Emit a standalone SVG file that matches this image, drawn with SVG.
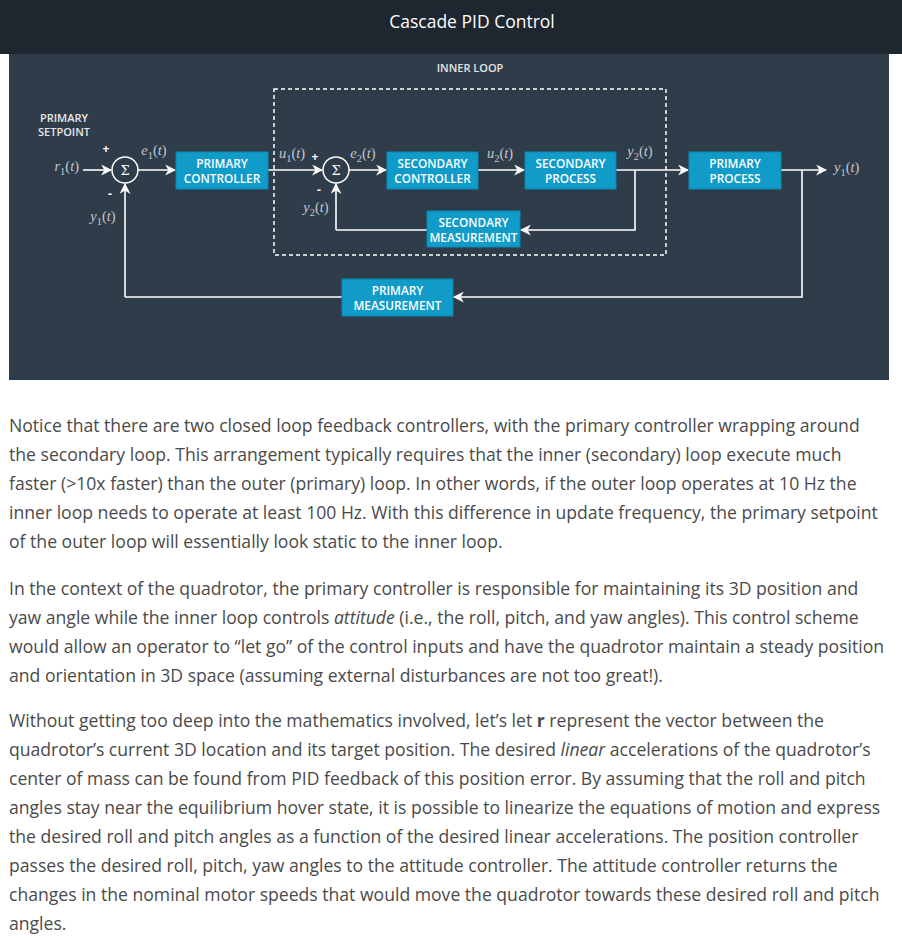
<svg xmlns="http://www.w3.org/2000/svg" width="902" height="938" viewBox="0 0 902 938">
<defs>
<marker id="ah" viewBox="0 0 10 10" refX="9" refY="5" markerWidth="11" markerHeight="11" markerUnits="userSpaceOnUse" orient="auto">
<path d="M0,0 L10,5 L0,10 L3,5 z" fill="#ffffff"/>
</marker>
<style>
.box{fill:#109bc9;stroke:#0b86b0;stroke-width:1}
.bt{font-family:"Open Sans","Noto Sans",sans-serif;font-size:11.8px;font-weight:600;fill:#ffffff;text-anchor:middle}
.lbl{font-family:"Open Sans","Noto Sans",sans-serif;font-size:11px;font-weight:600;fill:#e6e6e6;text-anchor:middle}
.m{font-family:"Liberation Serif","DejaVu Serif",serif;font-size:14.5px;fill:#c3c8ce}
.mi{font-style:italic}
.ln{fill:none;stroke:#ffffff;stroke-width:1.6}
.ar{fill:none;stroke:#ffffff;stroke-width:1.6;marker-end:url(#ah)}
.sg{font-family:"Open Sans","Noto Sans",sans-serif;font-size:12px;font-weight:700;fill:#ffffff;text-anchor:middle}
.p{font-family:"Open Sans","Noto Sans",sans-serif;font-size:17.6px;fill:#4a4a4a}
</style>
</defs>
<rect x="0" y="0" width="902" height="938" fill="#ffffff"/>
<rect x="0" y="0" width="902" height="54" fill="#1e262f"/>
<rect x="9" y="54" width="880" height="326" fill="#2f3c4a"/>
<text x="472" y="28" font-family="'Open Sans','Noto Sans',sans-serif" font-size="17.5" fill="#ffffff" text-anchor="middle">Cascade PID Control</text>

<g id="inner-loop">
<rect x="274" y="89" width="392" height="166" fill="none" stroke="#ffffff" stroke-width="1.5" stroke-dasharray="4,3"/>
<text class="lbl" x="470" y="72">INNER LOOP</text>
</g>
<g id="setpoint-label">
<text class="lbl" x="64" y="122">PRIMARY</text>
<text class="lbl" x="64" y="136">SETPOINT</text>
</g>

<g id="connectors">
<path class="ar" d="M83,170 H111"/>
<path class="ar" d="M138,170 H175"/>
<path class="ar" d="M268,170 H322"/>
<path class="ar" d="M349,170 H386"/>
<path class="ar" d="M478,170 H524"/>
<path class="ar" d="M616,170 H688"/>
<path class="ar" d="M781,170 H826"/>
<path class="ar" d="M635,170 V230 H521"/>
<path class="ln" d="M427,230 H336"/>
<path class="ar" d="M336,230 V184"/>
<path class="ar" d="M802,170 V297 H454"/>
<path class="ln" d="M342,297 H125"/>
<path class="ar" d="M125,297 V184"/>
</g>

<g id="sum1">
<circle cx="125" cy="170" r="13" fill="none" stroke="#ffffff" stroke-width="1.5"/>
<text x="125" y="175" font-family="'DejaVu Serif',serif" font-size="13" fill="#ffffff" text-anchor="middle">Σ</text>
<text class="sg" x="106" y="153">+</text>
<text class="sg" x="110" y="198">-</text>
</g>
<g id="sum2">
<circle cx="336" cy="170" r="13" fill="none" stroke="#ffffff" stroke-width="1.5"/>
<text x="336" y="175" font-family="'DejaVu Serif',serif" font-size="13" fill="#ffffff" text-anchor="middle">Σ</text>
<text class="sg" x="315" y="161">+</text>
<text class="sg" x="319" y="194">-</text>
</g>

<g id="primary-controller">
<rect class="box" x="176" y="152" width="92" height="37"/>
<text class="bt" x="222" y="168">PRIMARY</text>
<text class="bt" x="222" y="182.5">CONTROLLER</text>
</g>
<g id="secondary-controller">
<rect class="box" x="387" y="152" width="91" height="37"/>
<text class="bt" x="432.5" y="168">SECONDARY</text>
<text class="bt" x="432.5" y="182.5">CONTROLLER</text>
</g>
<g id="secondary-process">
<rect class="box" x="525" y="152" width="91" height="37"/>
<text class="bt" x="570.5" y="168">SECONDARY</text>
<text class="bt" x="570.5" y="182.5">PROCESS</text>
</g>
<g id="primary-process">
<rect class="box" x="689" y="152" width="92" height="37"/>
<text class="bt" x="735" y="168">PRIMARY</text>
<text class="bt" x="735" y="182.5">PROCESS</text>
</g>
<g id="secondary-measurement">
<rect class="box" x="427" y="211" width="93" height="36"/>
<text class="bt" x="473.5" y="227">SECONDARY</text>
<text class="bt" x="473.5" y="241.5">MEASUREMENT</text>
</g>
<g id="primary-measurement">
<rect class="box" x="342" y="279" width="111" height="37"/>
<text class="bt" x="397.5" y="295">PRIMARY</text>
<text class="bt" x="397.5" y="309.5">MEASUREMENT</text>
</g>

<g id="math-labels">
<text class="m" x="79" y="171" text-anchor="end"><tspan class="mi">r</tspan><tspan font-size="10.5" dy="4">1</tspan><tspan dy="-4">(</tspan><tspan class="mi">t</tspan>)</text>
<text class="m" x="103" y="221" text-anchor="middle"><tspan class="mi">y</tspan><tspan font-size="10.5" dy="4">1</tspan><tspan dy="-4">(</tspan><tspan class="mi">t</tspan>)</text>
<text class="m" x="154" y="155" text-anchor="middle"><tspan class="mi">e</tspan><tspan font-size="10.5" dy="4">1</tspan><tspan dy="-4">(</tspan><tspan class="mi">t</tspan>)</text>
<text class="m" x="292" y="158" text-anchor="middle"><tspan class="mi">u</tspan><tspan font-size="10.5" dy="4">1</tspan><tspan dy="-4">(</tspan><tspan class="mi">t</tspan>)</text>
<text class="m" x="316" y="212" text-anchor="middle"><tspan class="mi">y</tspan><tspan font-size="10.5" dy="4">2</tspan><tspan dy="-4">(</tspan><tspan class="mi">t</tspan>)</text>
<text class="m" x="363" y="158" text-anchor="middle"><tspan class="mi">e</tspan><tspan font-size="10.5" dy="4">2</tspan><tspan dy="-4">(</tspan><tspan class="mi">t</tspan>)</text>
<text class="m" x="500" y="158" text-anchor="middle"><tspan class="mi">u</tspan><tspan font-size="10.5" dy="4">2</tspan><tspan dy="-4">(</tspan><tspan class="mi">t</tspan>)</text>
<text class="m" x="640" y="156" text-anchor="middle"><tspan class="mi">y</tspan><tspan font-size="10.5" dy="4">2</tspan><tspan dy="-4">(</tspan><tspan class="mi">t</tspan>)</text>
<text class="m" x="834" y="172"><tspan class="mi">y</tspan><tspan font-size="10.5" dy="4">1</tspan><tspan dy="-4">(</tspan><tspan class="mi">t</tspan>)</text>
</g>

<g id="body-text" class="p">
<text class="p" x="9" y="432">Notice that there are two closed loop feedback controllers, with the primary controller wrapping around</text>
<text class="p" x="9" y="461">the secondary loop. This arrangement typically requires that the inner (secondary) loop execute much</text>
<text class="p" x="9" y="490">faster (&gt;10x faster) than the outer (primary) loop. In other words, if the outer loop operates at 10 Hz the</text>
<text class="p" x="9" y="519">inner loop needs to operate at least 100 Hz. With this difference in update frequency, the primary setpoint</text>
<text class="p" x="9" y="548">of the outer loop will essentially look static to the inner loop.</text>
<text class="p" x="9" y="595">In the context of the quadrotor, the primary controller is responsible for maintaining its 3D position and</text>
<text class="p" x="9" y="624">yaw angle while the inner loop controls <tspan font-style="italic">attitude</tspan> (i.e., the roll, pitch, and yaw angles). This control scheme</text>
<text class="p" x="9" y="653">would allow an operator to “let go” of the control inputs and have the quadrotor maintain a steady position</text>
<text class="p" x="9" y="682">and orientation in 3D space (assuming external disturbances are not too great!).</text>
<text class="p" x="9" y="727">Without getting too deep into the mathematics involved, let’s let <tspan font-weight="700">r</tspan> represent the vector between the</text>
<text class="p" x="9" y="756">quadrotor’s current 3D location and its target position. The desired <tspan font-style="italic">linear</tspan> accelerations of the quadrotor’s</text>
<text class="p" x="9" y="785">center of mass can be found from PID feedback of this position error. By assuming that the roll and pitch</text>
<text class="p" x="9" y="814">angles stay near the equilibrium hover state, it is possible to linearize the equations of motion and express</text>
<text class="p" x="9" y="843">the desired roll and pitch angles as a function of the desired linear accelerations. The position controller</text>
<text class="p" x="9" y="872">passes the desired roll, pitch, yaw angles to the attitude controller. The attitude controller returns the</text>
<text class="p" x="9" y="901">changes in the nominal motor speeds that would move the quadrotor towards these desired roll and pitch</text>
<text class="p" x="9" y="930">angles.</text>
</g>
</svg>
